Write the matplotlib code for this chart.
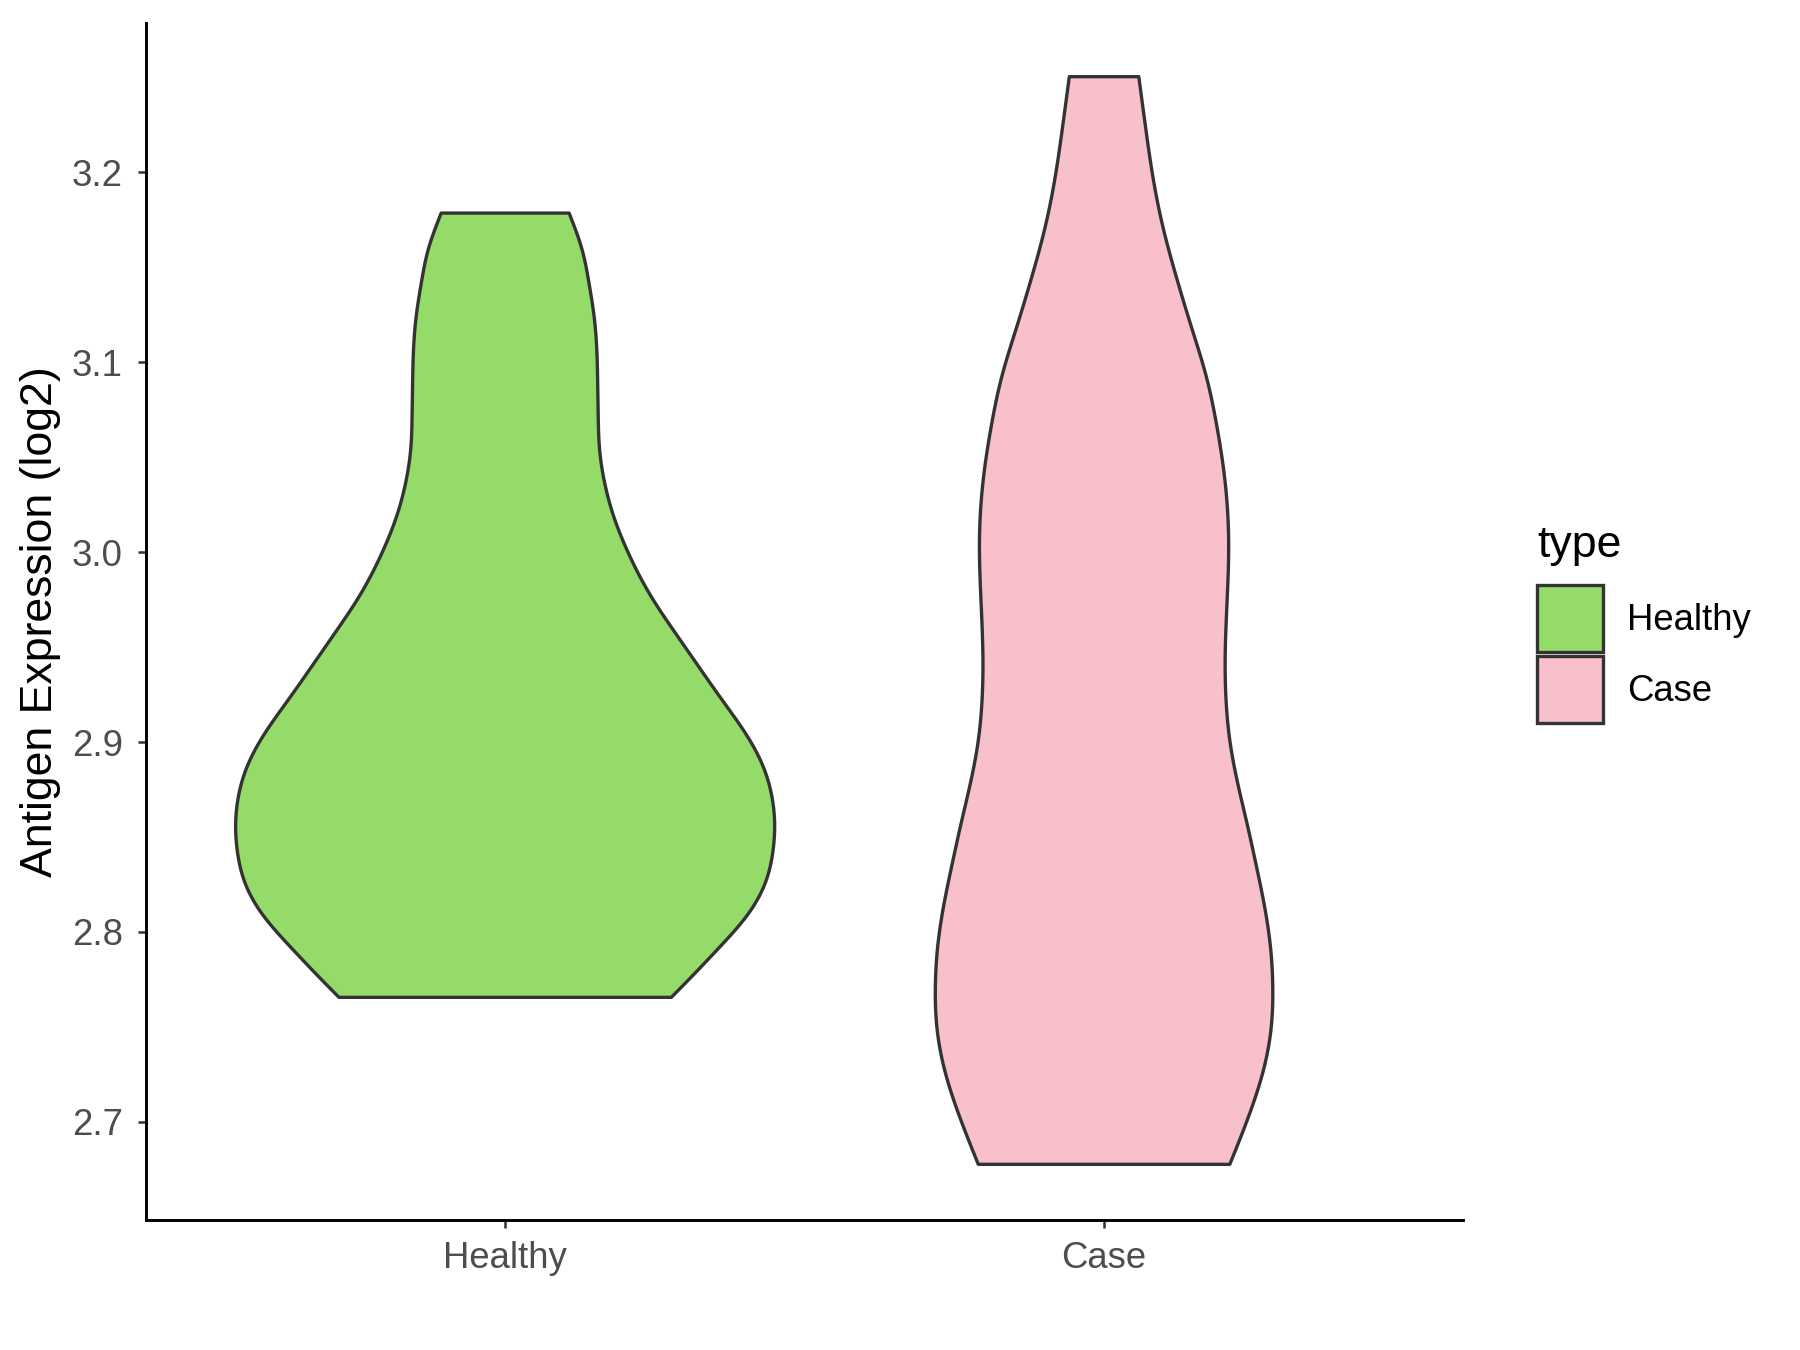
import matplotlib
matplotlib.use("Agg")
import matplotlib.pyplot as plt
import numpy as np
from matplotlib.patches import Patch

plt.rcParams['font.family'] = ['Liberation Sans', 'DejaVu Sans']

groups = ["Healthy", "Case"]
colors = ["#95DB69", "#F7C0CB"]

# violin outlines: y level -> half width (x units)
healthy_y = [2.7656, 2.7791, 2.7914, 2.8089, 2.8264, 2.8422, 2.856, 2.8702,
             2.8877, 2.9052, 2.9227, 2.9402, 2.9577, 2.9752, 3.000, 3.019,
             3.0365, 3.054, 3.0715, 3.0891, 3.1066, 3.1241, 3.1416, 3.1591,
             3.1784]
healthy_w = [0.2775, 0.3194, 0.3563, 0.4044, 0.435, 0.447, 0.450, 0.446,
             0.430, 0.400, 0.361, 0.322, 0.2835, 0.2465, 0.205, 0.181,
             0.1661, 0.1577, 0.1554, 0.1545, 0.153, 0.1485, 0.140, 0.1285,
             0.1068]

case_y = [2.6777, 2.7066, 2.728, 2.7495, 2.7709, 2.7923, 2.8138, 2.8352,
          2.8567, 2.8781, 2.8995, 2.921, 2.9425, 2.9746, 3.0068, 3.04,
          3.0663, 3.0926, 3.1188, 3.1451, 3.1714, 3.1976, 3.2239, 3.2502]
case_w = [0.2100, 0.2456, 0.2667, 0.279, 0.2817, 0.2778, 0.2678, 0.254,
          0.239, 0.2233, 0.2106, 0.2039, 0.2022, 0.2055, 0.2080, 0.201,
          0.1883, 0.1705, 0.1455, 0.1204, 0.0981, 0.0815, 0.0692, 0.058]

profiles = [(healthy_y, healthy_w), (case_y, case_w)]

yticks = [2.7, 2.8, 2.9, 3.0, 3.1, 3.2]


def natural_spline(x, y, xs):
    # plain natural cubic spline, only used to draw a smooth outline
    x = np.asarray(x, float)
    y = np.asarray(y, float)
    n = len(x)
    h = np.diff(x)
    A = np.zeros((n, n))
    b = np.zeros(n)
    A[0, 0] = A[-1, -1] = 1
    for i in range(1, n - 1):
        A[i, i - 1] = h[i - 1]
        A[i, i] = 2 * (h[i - 1] + h[i])
        A[i, i + 1] = h[i]
        b[i] = 3 * ((y[i + 1] - y[i]) / h[i] - (y[i] - y[i - 1]) / h[i - 1])
    c = np.linalg.solve(A, b)
    bb = (y[1:] - y[:-1]) / h - h * (2 * c[:-1] + c[1:]) / 3
    d = (c[1:] - c[:-1]) / (3 * h)
    k = np.clip(np.searchsorted(x, xs) - 1, 0, n - 2)
    t = xs - x[k]
    return y[k] + bb[k] * t + c[k] * t ** 2 + d[k] * t ** 3


fig = plt.figure(figsize=(12, 9), dpi=150)
ax = fig.add_axes([0.081, 0.0963, 0.732, 0.887])

for i, (ys, ws) in enumerate(profiles):
    yy = np.linspace(ys[0], ys[-1], 400)
    ww = natural_spline(ys, ws, yy)
    xs = np.concatenate([i + 1 - ww, (i + 1 + ww)[::-1]])
    ys2 = np.concatenate([yy, yy[::-1]])
    ax.fill(xs, ys2, facecolor=colors[i], edgecolor="#333333",
            linewidth=1.6, joinstyle="round")

ax.set_xlim(0.4, 2.6)
ax.set_ylim(2.6484, 3.2787)
ax.set_xticks([1, 2])
ax.set_xticklabels(groups)
ax.set_yticks(yticks)
ax.set_yticklabels([f"{t:.1f}" for t in yticks])

for s in ["top", "right"]:
    ax.spines[s].set_visible(False)
for s in ["left", "bottom"]:
    ax.spines[s].set_linewidth(1.4)
    ax.spines[s].set_color("black")

ax.tick_params(axis="both", length=4, width=1.2, color="#333333",
               labelcolor="#4D4D4D", labelsize=17.5)
ax.tick_params(axis="x", pad=6.3)
ax.tick_params(axis="y", pad=7)
ax.set_ylabel("Antigen Expression (log2)", fontsize=21.4, color="black", labelpad=5)

handles = [Patch(facecolor=colors[i], edgecolor="#333333", linewidth=1.6, label=g)
           for i, g in enumerate(groups)]
leg = fig.legend(handles=handles, title="type", loc="upper left",
                 bbox_to_anchor=(1519 / 1800, 1 - 507 / 1350), frameon=False,
                 fontsize=17.5, title_fontsize=21.4, handlelength=1.8,
                 handleheight=2.45, labelspacing=0.12, handletextpad=0.66,
                 borderpad=0, alignment="left")
leg._legend_box.sep = 9

fig.savefig("out.png", dpi=150)
